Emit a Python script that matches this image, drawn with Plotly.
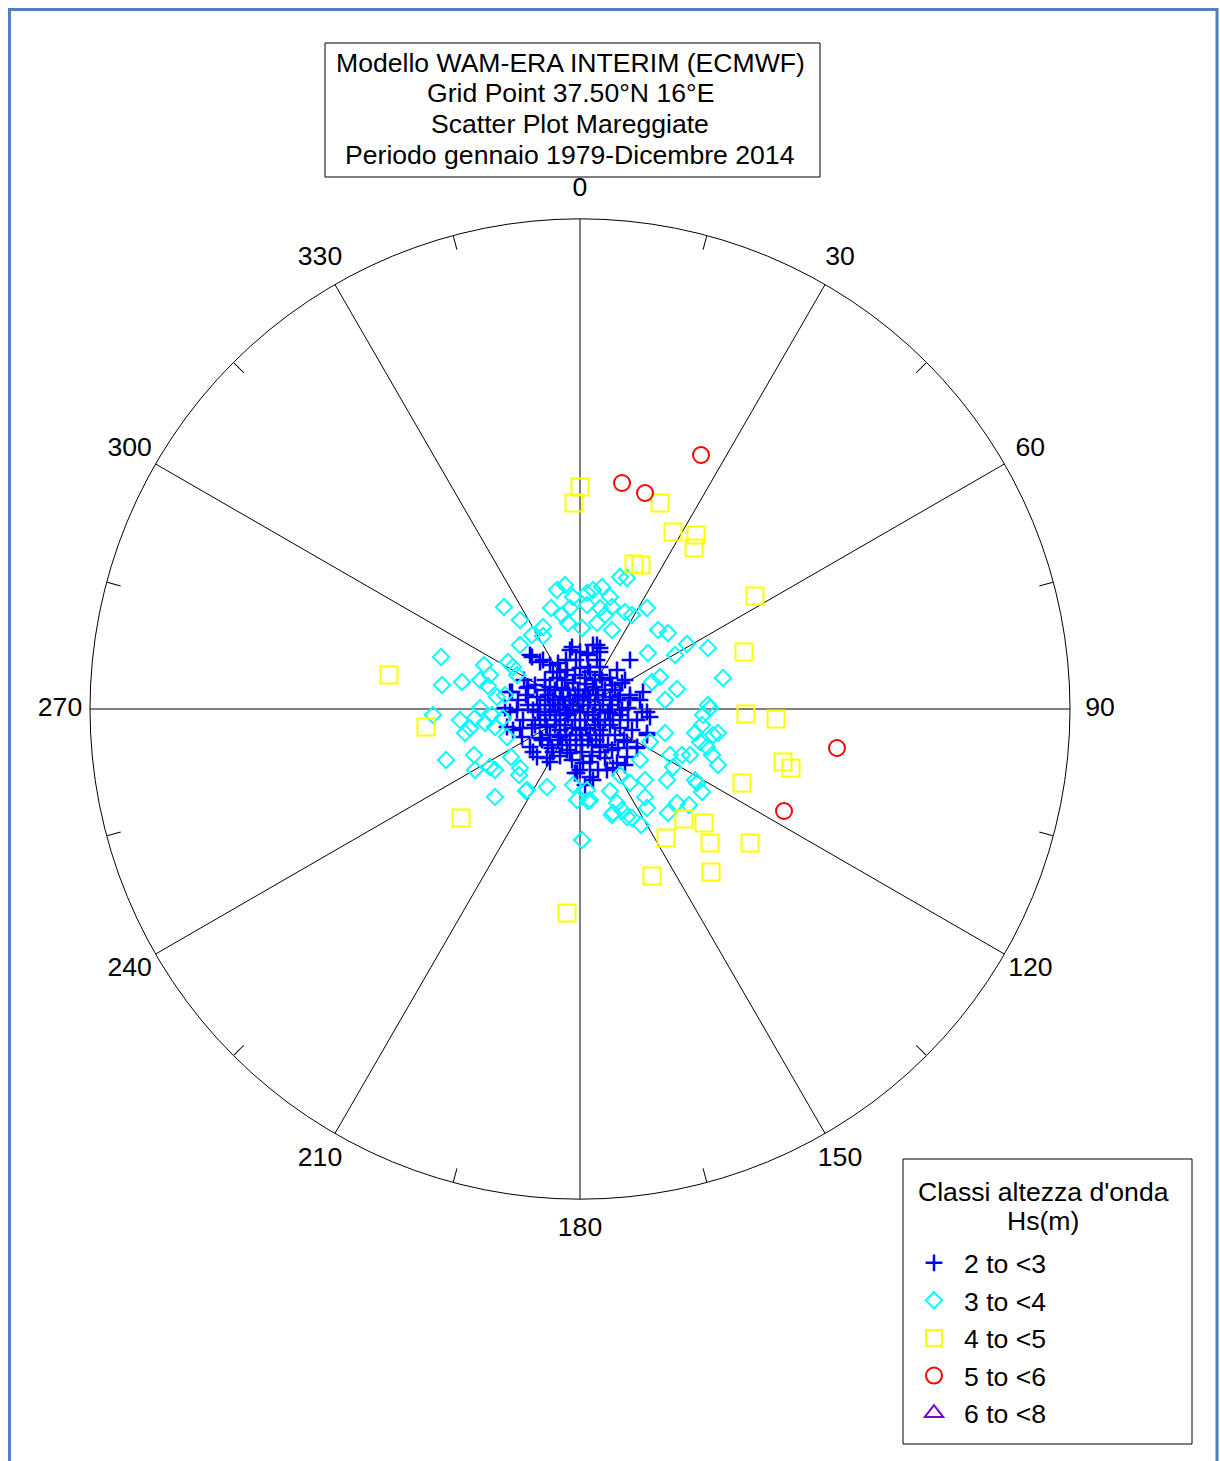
import numpy as np
import plotly.graph_objects as go

FONT = "Liberation Sans, Arial, sans-serif"
FS = 26.6

# ---- data: east (u) / north (v) components, radial units (outer circle = 49) ----
hs_2_3 = [(-5.0,5.4),(-3.7,4.9),(-1.0,5.9),(0.0,5.7),(1.7,6.4),(2.0,5.7),(5.0,4.9),(3.7,3.9),(-2.7,3.7),(-2.2,4.6),
          (0.8,4.2),(2.0,4.2),(-7.0,1.7),(-5.3,2.1),(-4.3,1.2),(4.5,2.9),(6.3,1.7),(5.0,1.4),(3.0,1.2),(-7.5,0.1),
          (-6.3,-0.1),(6.7,-0.3),(4.8,0.1),(5.7,-1.1),(6.7,-2.4),(-7.3,-1.8),(-5.8,-2.8),(-5.0,-3.8),(-4.3,-4.8),(-3.0,-5.3),
          (-1.0,-4.4),(-0.3,-6.4),(1.0,-6.8),(2.7,-6.1),(3.7,-5.4),(4.7,-4.8),(5.7,-3.8),(2.0,-3.8),(0.8,-3.1),(-2.2,-3.1),
          (0.0,-2.1),(-3.3,-1.8),(-1.3,-0.4),(0.3,1.2),(-0.7,2.6),(1.3,2.2),(3.0,-0.4),(-4.7,-0.1),(-5.7,-1.1),(-2.0,1.2),
          (-3.0,2.2),(0.3,-5.4),
          (-3.5,0.9),(-3.0,0.4),(-2.5,-0.1),(-2.0,-0.6),(-1.5,0.4),(-1.0,0.9),(-0.5,1.4),(0.5,1.9),(1.0,0.9),(1.5,0.4),
          (2.0,-0.1),(2.5,-1.1),(1.5,-1.6),(0.5,-1.1),(-0.5,-1.1),(-1.5,-1.6),(-2.5,-1.6),(-3.5,-0.6),(-4.0,-1.1),(-3.0,-2.6),
          (-2.0,-2.1),(-1.0,-3.1),(1.0,-2.6),(2.0,-2.1),(3.0,-1.6),(3.5,-2.6),(4.0,-0.6),(3.2,0.4),(2.5,1.9),(1.5,2.9),
          (0.5,3.1),(-0.5,3.4),(-1.5,2.9),(-2.5,1.9),(-3.5,1.9),(-4.0,0.4),(-4.5,-1.6),(-1.0,-0.1),(0.0,-0.3),(0.8,-0.3),
          (-0.2,0.9),(-1.2,1.9),(1.8,1.4),(0.2,-3.1),(-0.8,-1.9),(1.2,-3.6),(-1.8,-3.6),(-3.2,-3.6),(2.2,2.9),(3.5,1.9),
          (0.8,5.4),(-0.4,4.9),(-1.4,4.9),(1.7,4.9),(3.0,3.1),
          (-0.8,6.2),(-4.8,5.2),(-4.0,4.7),(-3.0,4.4),(-2.0,3.7),(-6.8,1.7),(-5.2,2.2),(4.2,2.6),(2.0,6.1),(1.3,6.4),
          (5.0,1.1),(0.7,5.6),(7.0,-0.8),(6.2,-0.3),(6.7,-2.6),(5.7,-3.9),(4.5,-5.6),(3.3,-5.9),(1.3,-7.1),(4.7,-3.3),
          (4.0,-1.9),(2.0,-4.3),(1.0,-5.3),(-7.0,-0.3),(-6.7,-2.1),(-4.7,-4.3),(-3.3,-4.9),(-2.7,-4.3),(-1.3,-4.1),(-0.5,-6.4),
          (-4.0,-2.9),(-2.0,-2.8),(0.0,-6.1),
          (-3.2,1.4),(-2.7,0.9),(-2.2,0.4),(-1.7,0.9),(-1.2,-0.6),(-0.7,0.4),(-0.2,1.9),(0.3,0.4),(0.8,1.4),(1.3,-0.6),
          (1.8,-1.1),(2.3,0.9),(2.8,-0.3),(3.3,-1.1),(3.8,0.9),(4.2,-0.1),(2.3,-2.6),(2.8,-3.6),(1.6,-3.1),(0.6,-1.9),
          (-0.4,-2.6),(-1.4,-2.6),(-2.4,-1.1),(-3.4,-1.6),(-4.2,-0.3),(-5.2,0.4),(-5.4,1.4),(-4.5,2.4),(-3.5,2.9),(-2.3,3.1),
          (-1.3,3.9),(0.0,4.1),(1.0,3.7),(2.0,3.4),(3.2,2.4),(4.0,1.4),(4.8,-1.1),(5.2,-2.1),(3.8,-3.9),(2.5,-4.9),
          (1.2,-4.7),(0.2,-4.3),(-0.8,-5.1),(-2.0,-4.7),(-2.8,-3.9),(-3.8,-3.1),(-4.8,-1.9),(-6.0,-1.9),(-6.2,0.9),(-5.6,2.9),
          (1.6,1.9),(0.6,2.5),(-1.8,2.1),(-3.0,-0.3),(-0.4,-3.6),(1.8,-6.1),(0.5,-7.6),(3.2,-4.1),(6.0,0.9),(4.4,-3.1)]

hs_3_4 = [(-1.5,12.4),(-2.3,11.9),(-0.7,11.2),(-7.6,10.2),(-2.9,10.1),(-1.0,10.1),(-1.8,9.4),(-6.0,8.9),(-1.2,8.6),(-3.7,8.2),
          (-4.8,7.4),(-3.7,7.3),(-6.0,6.4),(-13.9,5.2),(-9.6,4.4),(-7.2,4.7),(-6.7,4.2),(-9.0,3.4),(-13.8,2.4),(-11.8,2.7),
          (-10.0,2.9),(-9.2,2.3),(-8.3,1.2),(-7.5,1.4),(-6.3,3.4),(-14.7,-0.6),(-10.0,0.1),(-12.0,-1.1),(-11.5,-2.4),(-10.5,-0.9),
          (-11.0,-1.9),(-9.5,-1.4),(-8.8,-0.6),(-8.5,-1.8),(-7.7,-0.9),(-7.3,-2.8),(-13.4,-5.1),(-10.6,-4.6),(-10.5,-6.1),(-9.0,-5.8),
          (-8.5,-6.1),(-6.9,-4.8),(-6.0,-5.9),(-6.1,-6.6),(-5.3,-8.1),(-3.3,-7.8),(-8.5,-8.8),(-0.7,-7.6),(-0.3,-9.1),(0.2,-13.1),
          (-5.4,-8.2),(0.8,-9.2),(3.0,-8.2),(3.3,-10.4),(3.7,-9.4),(4.2,-10.1),(4.7,-10.8),(5.2,-10.9),(6.1,-11.6),(6.5,-8.8),
          (6.7,-9.9),(8.8,-10.4),(9.7,-9.4),(10.9,-9.6),(12.2,-8.3),(11.7,-7.4),(8.7,-7.1),(13.0,0.1),(12.3,-0.6),(12.2,-1.6),
          (11.5,-2.4),(8.5,-2.4),(13.3,-2.6),(13.8,-2.4),(12.0,-3.3),(12.7,-3.8),(11.0,-4.6),(13.2,-4.6),(13.8,-5.6),(10.2,-4.6),
          (9.0,-4.6),(9.3,-5.8),(6.0,-5.1),(7.0,-3.3),(11.5,-7.1),(6.5,-7.1),(5.0,-7.4),(4.0,-6.6),(1.0,-9.1),(0.7,-8.1),
          (3.2,-10.6),(4.0,13.2),(4.7,13.1),(2.2,12.2),(1.3,11.9),(0.7,11.6),(3.0,11.2),(0.7,10.4),(2.0,10.1),(3.2,10.2),
          (4.5,9.7),(6.7,10.1),(2.5,9.4),(5.2,9.4),(1.7,8.6),(3.2,7.9),(0.2,8.1),(7.8,7.9),(8.8,7.6),(10.7,6.5),
          (12.8,6.1),(6.8,5.6),(9.5,5.4),(14.3,3.1),(8.0,3.2),(7.2,2.7),(9.7,2.0),(8.5,0.9),(12.8,0.4)]

hs_4_5 = [(0.0,22.2),(-0.6,20.6),(8.0,20.6),(9.3,17.7),(11.6,17.4),(11.4,16.1),(5.4,14.5),(6.1,14.4),(17.5,11.3),(16.4,5.7),
          (16.6,-0.5),(19.6,-1.0),(20.3,-5.3),(21.1,-5.9),(16.2,-7.4),(17.0,-13.4),(10.4,-11.0),(12.4,-11.4),(13.0,-13.4),(8.6,-12.9),
          (7.2,-16.7),(13.1,-16.3),(-1.3,-20.4),(-11.9,-10.9),(-15.4,-1.8),(-19.1,3.4)]

hs_5_6 = [(12.1,25.4),(4.2,22.6),(6.5,21.6),(25.7,-3.9),(20.4,-10.2)]

hs_6_8 = []

class_names = ["2 to <3", "3 to <4", "4 to <5", "5 to <6", "6 to <8"]
class_data = [hs_2_3, hs_3_4, hs_4_5, hs_5_6, hs_6_8]
class_colors = ["#0000FF", "#00FFFF", "#FFFF00", "#FF0000", "#8000C8"]
class_symbols = ["cross-thin", "diamond-open", "square-open", "circle-open", "triangle-up-open"]
class_sizes = [12, 12.5, 17, 16, 16]
class_lw = [2.5, 2, 2, 2, 2]

angle_ticks = list(range(0, 360, 30))
minor_ticks = list(range(15, 360, 30))
R_MAX = 49.0          # outer circle of the scatter plot
R_LABEL = 52.0        # radius at which the direction labels sit
R_LABEL_AXIS = 54.0   # range of the (invisible) label ring

title_lines = ["Modello WAM-ERA INTERIM (ECMWF)", "Grid Point 37.50°N 16°E",
               "Scatter Plot Mareggiate", "Periodo gennaio 1979-Dicembre 2014"]
legend_title = ["Classi altezza d'onda", "Hs(m)"]

W, H = 1220, 1461
CX, CY, RPX = 580, 709, 490
fig = go.Figure()

for name, pts, col, sym, sz, lw in zip(class_names, class_data, class_colors, class_symbols, class_sizes, class_lw):
    if pts:
        arr = np.array(pts, dtype=float)
        u, v = arr[:, 0], arr[:, 1]
        r = np.hypot(u, v)
        th = np.degrees(np.arctan2(u, v)) % 360
    else:
        r, th = [None], [None]
    fig.add_trace(go.Scatterpolar(
        r=r, theta=th, mode="markers", name=name, subplot="polar", legendgroup=name,
        marker=dict(symbol=sym, size=sz, color=col, line=dict(color=col, width=lw)),
        hoverinfo="skip"))

fig.add_trace(go.Scatterpolar(r=[None], theta=[None], mode="markers", subplot="polar2",
                              showlegend=False, hoverinfo="skip"))

# direction labels, placed through a concentric (invisible) polar ring, centred on each spoke
fig.add_trace(go.Scatterpolar(r=[R_LABEL] * len(angle_ticks), theta=angle_ticks, mode="text",
                              text=[str(a) for a in angle_ticks], textposition="middle center",
                              textfont=dict(family=FONT, size=FS, color="black"),
                              showlegend=False, hoverinfo="skip", subplot="polar3"))

dom_x = [(CX - RPX) / W, (CX + RPX) / W]
dom_y = [1 - (CY + RPX) / H, 1 - (CY - RPX) / H]
RL = RPX * R_LABEL_AXIS / R_MAX
dom3_x = [(CX - RL) / W, (CX + RL) / W]
dom3_y = [1 - (CY + RL) / H, 1 - (CY - RL) / H]

hidden_angular = dict(rotation=90, direction="clockwise", showticklabels=False, ticks="",
                      showgrid=False, showline=False)

fig.update_layout(
    width=W, height=H, margin=dict(l=0, r=0, t=0, b=0),
    paper_bgcolor="white", plot_bgcolor="white",
    font=dict(family=FONT, size=FS, color="black"),
    polar=dict(
        domain=dict(x=dom_x, y=dom_y), bgcolor="white",
        radialaxis=dict(visible=False, range=[0, R_MAX]),
        angularaxis=dict(rotation=90, direction="clockwise", tickmode="array",
                         tickvals=angle_ticks, showticklabels=False, ticks="",
                         showgrid=True, gridcolor="black", gridwidth=1,
                         showline=True, linecolor="black", linewidth=1,
                         layer="below traces"),
    ),
    polar2=dict(
        domain=dict(x=dom_x, y=dom_y), bgcolor="rgba(0,0,0,0)",
        radialaxis=dict(visible=False, range=[0, R_MAX]),
        angularaxis=dict(rotation=90, direction="clockwise", tickmode="array",
                         tickvals=minor_ticks, ticks="inside", ticklen=14,
                         tickcolor="black", tickwidth=1, showticklabels=False,
                         showgrid=False, showline=False),
    ),
    polar3=dict(
        domain=dict(x=dom3_x, y=dom3_y), bgcolor="rgba(0,0,0,0)",
        radialaxis=dict(visible=False, range=[0, R_LABEL_AXIS]),
        angularaxis=hidden_angular,
    ),
    legend=dict(x=903 / W, y=1 - 1238 / H, xanchor="left", yanchor="top",
                bordercolor="rgba(0,0,0,0)", borderwidth=1, bgcolor="rgba(0,0,0,0)",
                font=dict(family=FONT, size=FS, color="black"),
                itemsizing="trace", itemwidth=50, tracegroupgap=0, traceorder="grouped"),
    showlegend=True,
)

# title box
fig.add_shape(type="rect", xref="paper", yref="paper",
              x0=325 / W, x1=820 / W, y0=1 - 177 / H, y1=1 - 43 / H,
              line=dict(color="black", width=1), fillcolor="white")
for i, txt in enumerate(title_lines):
    fig.add_annotation(xref="paper", yref="paper", x=570 / W, y=1 - (62.5 + 30.7 * i) / H,
                       xanchor="center", yanchor="middle", showarrow=False, text=txt,
                       font=dict(family=FONT, size=FS, color="black"))

# legend box and centred legend title
fig.add_shape(type="rect", xref="paper", yref="paper",
              x0=903 / W, x1=1192 / W, y0=1 - 1444 / H, y1=1 - 1159 / H,
              line=dict(color="black", width=1), fillcolor="white")
for i, txt in enumerate(legend_title):
    fig.add_annotation(xref="paper", yref="paper", x=1043 / W, y=1 - (1192 + 28.5 * i) / H,
                       xanchor="center", yanchor="middle", showarrow=False, text=txt,
                       font=dict(family=FONT, size=FS, color="black"))

# outer page frame
fig.add_shape(type="rect", xref="paper", yref="paper",
              x0=9.5 / W, x1=1217 / W, y0=-0.05, y1=1 - 9.5 / H,
              line=dict(color="#4F81BD", width=3), fillcolor="rgba(0,0,0,0)", layer="above")

fig.write_html("out.html", config={"displayModeBar": False},
               post_script="document.body.style.margin='0';document.body.style.overflow='hidden';")
